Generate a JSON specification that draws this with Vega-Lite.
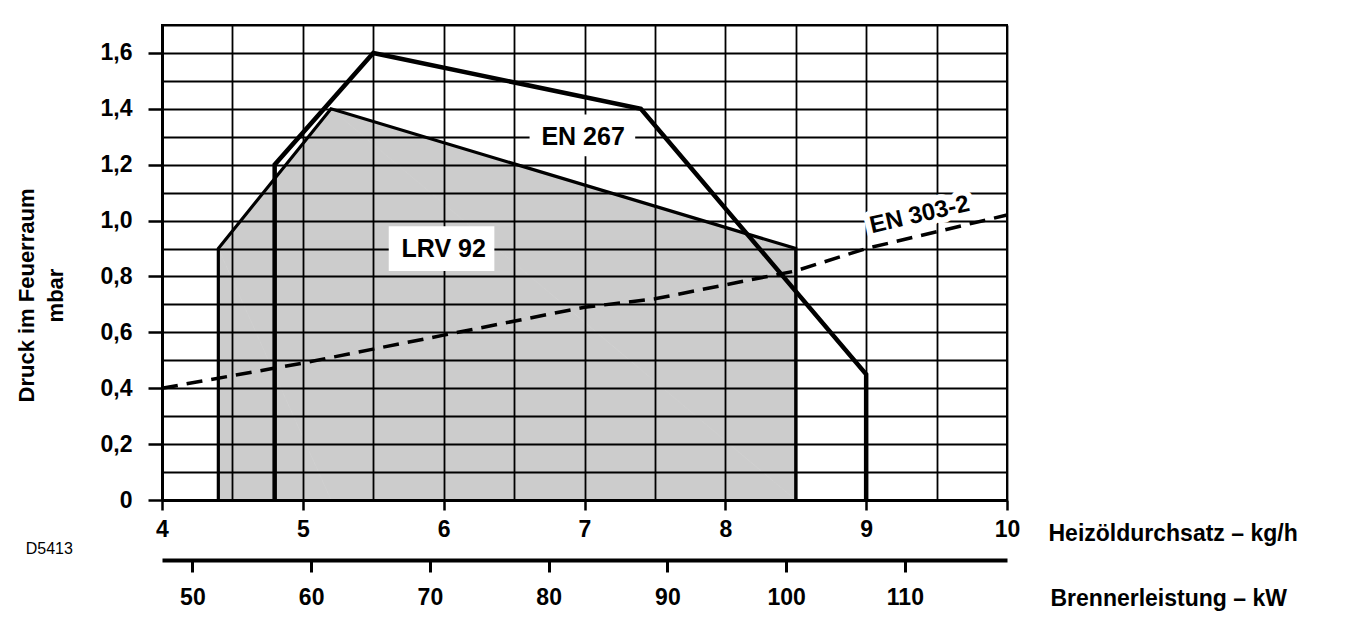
{
  "$schema": "https://vega.github.io/schema/vega-lite/v6.json",
  "width": 845,
  "height": 475,
  "autosize": {"type": "none"},
  "padding": {"left": 162, "top": 25, "right": 362, "bottom": 131},
  "background": "white",
  "config": {
    "view": {"stroke": "black", "strokeWidth": 2},
    "font": "Liberation Sans"
  },
  "datasets": {
    "lrv": [
      {"x": 4.4, "y": 0, "i": 0},
      {"x": 4.4, "y": 0.9, "i": 1},
      {"x": 5.2, "y": 1.4, "i": 2},
      {"x": 8.5, "y": 0.9, "i": 3},
      {"x": 8.5, "y": 0, "i": 4}
    ],
    "en267": [
      {"x": 4.8, "y": 0, "i": 0},
      {"x": 4.8, "y": 1.2, "i": 1},
      {"x": 5.5, "y": 1.6, "i": 2},
      {"x": 7.4, "y": 1.4, "i": 3},
      {"x": 9.0, "y": 0.45, "i": 4},
      {"x": 9.0, "y": 0, "i": 5}
    ],
    "en303": [
      {"x": 4.0, "y": 0.4},
      {"x": 5.0, "y": 0.49},
      {"x": 6.0, "y": 0.59},
      {"x": 7.0, "y": 0.69},
      {"x": 7.5, "y": 0.72},
      {"x": 8.0, "y": 0.77},
      {"x": 8.5, "y": 0.82},
      {"x": 9.0, "y": 0.9},
      {"x": 9.5, "y": 0.96},
      {"x": 10.0, "y": 1.02}
    ],
    "boxes": [
      {"x": 6.61, "x2": 7.36, "y": 1.23, "y2": 1.38},
      {"x": 5.61, "x2": 6.36, "y": 0.82, "y2": 0.98}
    ],
    "labels": [
      {"x": 6.99, "y": 1.3, "text": "EN 267"},
      {"x": 6.0, "y": 0.9, "text": "LRV 92"}
    ],
    "en303label": [
      {"x": 9.38, "y": 1.02, "text": "EN 303-2"}
    ],
    "note": [
      {"x": 3.2, "y": -0.175, "text": "D5413"}
    ],
    "kw": [
      {"kw": 47.44},
      {"kw": 118.6}
    ]
  },
  "layer": [
    {
      "layer": [
        {
          "data": {"name": "lrv"},
          "mark": {"type": "area", "fill": "black", "fillOpacity": 0.2, "stroke": null},
          "encoding": {
            "x": {
              "field": "x", "type": "quantitative",
              "scale": {"domain": [4, 10], "nice": false, "zero": false},
              "axis": {
                "title": "Heizöldurchsatz – kg/h",
                "values": [4, 4.5, 5, 5.5, 6, 6.5, 7, 7.5, 8, 8.5, 9, 9.5, 10],
                "tickCount": 100,
                "grid": true, "gridColor": "black", "gridOpacity": 1, "gridWidth": 1.8,
                "domain": true, "domainColor": "black", "domainWidth": 3,
                "ticks": true, "tickWidth": 2.5, "tickSize": 10,
                "tickColor": {"condition": {"test": "datum.value % 1 === 0", "value": "black"}, "value": "transparent"},
                "labelExpr": "datum.value % 1 === 0 ? format(datum.value, 'd') : ''",
                "labelFont": "Liberation Sans", "labelFontWeight": "bold", "labelFontSize": 23,
                "labelColor": "black", "labelPadding": 8, "labelFlush": false, "labelOverlap": false,
                "titleFont": "Liberation Sans", "titleFontWeight": "bold", "titleFontSize": 23,
                "titleColor": "black", "titleX": 886, "titleY": 33, "titleAlign": "left",
                "titleBaseline": "middle", "titleAnchor": null
              }
            },
            "y": {
              "field": "y", "type": "quantitative",
              "scale": {"domain": [0, 1.7], "nice": false, "zero": true},
              "axis": {
                "title": ["Druck im Feuerraum", "mbar"],
                "values": [0, 0.1, 0.2, 0.3, 0.4, 0.5, 0.6, 0.7, 0.8, 0.9, 1.0, 1.1, 1.2, 1.3, 1.4, 1.5, 1.6, 1.7],
                "tickCount": 100,
                "grid": true, "gridColor": "black", "gridOpacity": 1, "gridWidth": 1.8,
                "domain": true, "domainColor": "black", "domainWidth": 3,
                "ticks": true, "tickWidth": 2.5, "tickSize": 14,
                "tickColor": {"condition": {"test": "abs(datum.value * 10 - 2 * round(datum.value * 5)) < 0.01 && datum.value < 1.65", "value": "black"}, "value": "transparent"},
                "labelExpr": "(abs(datum.value * 10 - 2 * round(datum.value * 5)) < 0.01 && datum.value < 1.65) ? (datum.value == 0 ? '0' : replace(format(datum.value, '.1f'), '.', ',')) : ''",
                "labelFont": "Liberation Sans", "labelFontWeight": "bold", "labelFontSize": 23,
                "labelColor": "black", "labelPadding": 16, "labelFlush": false, "labelOverlap": false,
                "titleFont": "Liberation Sans", "titleFontWeight": "bold", "titleFontSize": 22,
                "titleColor": "black", "titleAngle": -90, "titleX": -129, "titleY": 270,
                "titleAlign": "center", "titleBaseline": "alphabetic", "titleLineHeight": 29,
                "titleAnchor": null
              }
            },
            "order": {"field": "i", "type": "quantitative"}
          }
        },
        {
          "data": {"name": "boxes"},
          "mark": {"type": "rect", "fill": "white", "stroke": null},
          "encoding": {
            "x": {"field": "x", "type": "quantitative"},
            "x2": {"field": "x2"},
            "y": {"field": "y", "type": "quantitative"},
            "y2": {"field": "y2"}
          }
        },
        {
          "data": {"name": "en303label"},
          "mark": {"type": "text", "font": "Liberation Sans", "fontWeight": "bold", "fontSize": 24,
                   "angle": -13, "align": "center", "baseline": "middle",
                   "fill": "white", "stroke": "white", "strokeWidth": 12, "strokeJoin": "round"},
          "encoding": {
            "x": {"field": "x", "type": "quantitative"},
            "y": {"field": "y", "type": "quantitative"},
            "text": {"field": "text"}
          }
        },
        {
          "data": {"name": "en303"},
          "mark": {"type": "line", "color": "black", "strokeWidth": 3.5, "strokeDash": [16, 9]},
          "encoding": {
            "x": {"field": "x", "type": "quantitative"},
            "y": {"field": "y", "type": "quantitative"}
          }
        },
        {
          "data": {"name": "lrv"},
          "mark": {"type": "line", "color": "black", "strokeWidth": 3.2, "strokeJoin": "miter"},
          "encoding": {
            "x": {"field": "x", "type": "quantitative"},
            "y": {"field": "y", "type": "quantitative"},
            "order": {"field": "i", "type": "quantitative"}
          }
        },
        {
          "data": {"name": "en267"},
          "mark": {"type": "line", "color": "black", "strokeWidth": 4.5, "strokeJoin": "miter"},
          "encoding": {
            "x": {"field": "x", "type": "quantitative"},
            "y": {"field": "y", "type": "quantitative"},
            "order": {"field": "i", "type": "quantitative"}
          }
        },
        {
          "data": {"name": "labels"},
          "mark": {"type": "text", "font": "Liberation Sans", "fontWeight": "bold", "fontSize": 25,
                   "align": "center", "baseline": "middle", "color": "black"},
          "encoding": {
            "x": {"field": "x", "type": "quantitative"},
            "y": {"field": "y", "type": "quantitative"},
            "text": {"field": "text"}
          }
        },
        {
          "data": {"name": "en303label"},
          "mark": {"type": "text", "font": "Liberation Sans", "fontWeight": "bold", "fontSize": 24,
                   "angle": -13, "align": "center", "baseline": "middle", "color": "black"},
          "encoding": {
            "x": {"field": "x", "type": "quantitative"},
            "y": {"field": "y", "type": "quantitative"},
            "text": {"field": "text"}
          }
        },
        {
          "data": {"name": "note"},
          "mark": {"type": "text", "font": "Liberation Sans", "fontSize": 16,
                   "align": "center", "baseline": "middle", "color": "black"},
          "encoding": {
            "x": {"field": "x", "type": "quantitative"},
            "y": {"field": "y", "type": "quantitative"},
            "text": {"field": "text"}
          }
        }
      ]
    },
    {
      "data": {"name": "kw"},
      "mark": {"type": "rule", "opacity": 0},
      "encoding": {
        "x": {
          "field": "kw", "type": "quantitative",
          "scale": {"domain": [47.44, 118.6], "nice": false, "zero": false},
          "axis": {
            "orient": "bottom", "offset": 60,
            "title": "Brennerleistung –  kW",
            "values": [50, 60, 70, 80, 90, 100, 110],
            "tickCount": 100,
            "grid": false,
            "domain": true, "domainColor": "black", "domainWidth": 4,
            "ticks": true, "tickColor": "black", "tickWidth": 3, "tickSize": 12,
            "labelFont": "Liberation Sans", "labelFontWeight": "bold", "labelFontSize": 23,
            "labelColor": "black", "labelPadding": 14, "labelFlush": false, "labelOverlap": false,
            "titleFont": "Liberation Sans", "titleFontWeight": "bold", "titleFontSize": 23,
            "titleColor": "black", "titleX": 888, "titleY": 38, "titleAlign": "left",
            "titleBaseline": "middle", "titleAnchor": null
          }
        }
      }
    }
  ],
  "resolve": {"scale": {"x": "independent"}, "axis": {"x": "independent"}}
}
